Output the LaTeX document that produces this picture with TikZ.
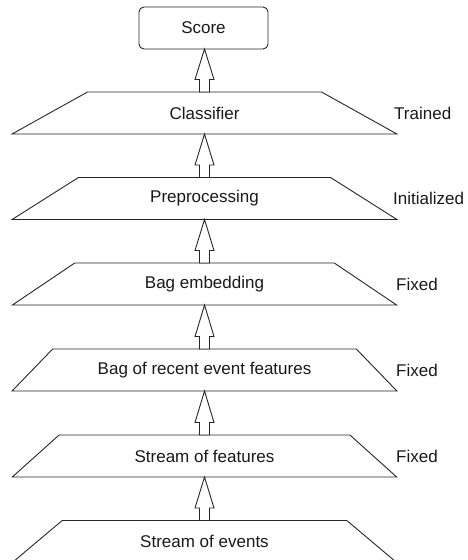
\documentclass[tikz,border=0pt]{standalone}
\usepackage{fontspec}
\setmainfont{Liberation Sans}
\usetikzlibrary{shapes.geometric,calc}
\tikzset{
  ln/.style={draw=black!85, line width=0.9pt},
  txt/.style={font=\fontsize{17}{20}\selectfont, text=black!90},
  layer/.style={ln, txt, trapezium, trapezium stretches=true,
    trapezium left angle=29, trapezium right angle=29,
    minimum width=385pt, minimum height=42pt, inner sep=0pt, outer sep=0pt},
  scorebox/.style={ln, txt, rectangle, rounded corners=5pt, minimum width=129pt,
    minimum height=42pt, inner sep=0pt, outer sep=0pt},
  stat/.style={txt, anchor=west, inner sep=0pt},
  blockarr/.style={ln, fill=white, line join=miter}
}
\newcommand\blockarrow[2]{%
  \path[blockarr] let \p1=(#1.north), \p2=(#2.south) in
    (\x1-5pt,\y1) -- (\x1-5pt,\y1+12.5pt) -- (\x1-9.5pt,\y1+12.5pt) --
    (\x1,\y2) -- (\x1+9.5pt,\y1+12.5pt) -- (\x1+5pt,\y1+12.5pt) --
    (\x1+5pt,\y1) -- cycle;}
\begin{document}
\begin{tikzpicture}[x=1pt,y=-1pt]
\useasboundingbox (0,0) rectangle (468,560);
\node[scorebox] (score) at (203.5,28) {Score};
\node[layer] (cls) at (204.5,113) {Classifier};
\node[layer] (pre) at (204.5,198.5) {Preprocessing};
\node[layer] (emb) at (204.5,284) {Bag embedding};
\node[layer] (bag) at (204.5,370) {Bag of recent event features};
\node[layer] (sof) at (204.5,456) {Stream of features};
\node[layer] (soe) at (204.5,541.5) {Stream of events};
\node[stat] (t1) at (394,113) {Trained};
\node[stat] (t2) at (393,198.5) {Initialized};
\node[stat] (t3) at (396,284) {Fixed};
\node[stat] (t4) at (396,370) {Fixed};
\node[stat] (t5) at (396,456) {Fixed};
\blockarrow{cls}{score}
\blockarrow{pre}{cls}
\blockarrow{emb}{pre}
\blockarrow{bag}{emb}
\blockarrow{sof}{bag}
\blockarrow{soe}{sof}
\end{tikzpicture}
\end{document}
